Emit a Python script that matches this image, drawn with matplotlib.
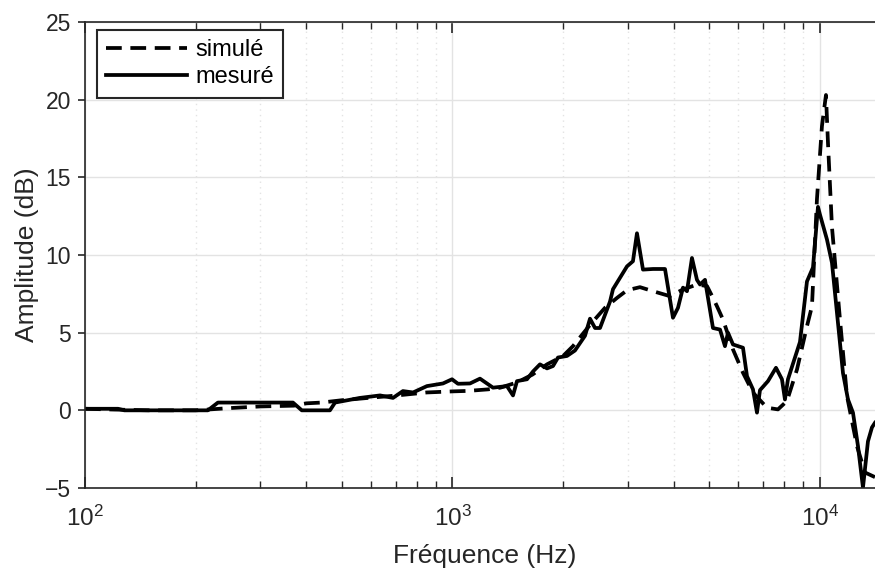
import math
import matplotlib
matplotlib.use('Agg')
import matplotlib.pyplot as plt
from matplotlib.ticker import LogLocator, FuncFormatter, MultipleLocator

plt.rcParams['font.family'] = ['Liberation Sans', 'DejaVu Sans']
plt.rcParams['mathtext.fontset'] = 'custom'
plt.rcParams['mathtext.rm'] = 'Liberation Sans'
plt.rcParams['mathtext.it'] = 'Liberation Sans'

# mesure (Hz, dB)
f_mes = [100, 123, 128, 216, 230, 368, 389, 464, 479, 560, 635, 689, 733, 781,
         852, 942, 997, 1035, 1116, 1188, 1289, 1407, 1461, 1498, 1595, 1656,
         1730, 1808, 1877, 1937, 2049, 2154, 2294, 2367, 2443, 2520, 2683, 2734,
         2985, 3098, 3177, 3299, 3513, 3787, 3981, 4108, 4239, 4346, 4484, 4627,
         4716, 4866, 5115, 5345, 5514, 5619, 5798, 6173, 6330, 6572, 6739, 6867,
         7220, 7591, 7880, 8030, 8183, 8822, 9218, 9572, 9876, 10000, 10447,
         10781, 11551, 11919, 12297, 12689, 13092, 13507, 13851, 14114]
a_mes = [0.1, 0.1, 0.0, 0.0, 0.5, 0.5, 0.0, 0.0, 0.5, 0.8, 0.96, 0.8, 1.24, 1.15,
         1.56, 1.73, 2.0, 1.71, 1.73, 2.04, 1.46, 1.56, 0.96, 1.88, 2.0, 2.5,
         2.96, 2.7, 2.85, 3.4, 3.5, 3.85, 4.8, 5.9, 5.3, 5.3, 7.0, 7.8,
         9.27, 9.6, 11.4, 9.06, 9.1, 9.1, 5.96, 6.6, 7.9, 7.67, 9.81, 8.4,
         8.1, 8.4, 5.3, 5.2, 4.13, 5.0, 4.24, 4.03, 2.2, 1.35, -0.15, 1.3,
         1.88, 2.74, 2.0, 0.7, 2.0, 4.4, 8.3, 9.2, 13.1, 12.6, 11.0,
         9.5, 2.4, 0.7, -0.15, -2.3, -4.97, -2.0, -1.1, -0.8]

# simulation (Hz, dB)
f_sim = [100, 120, 150, 200, 250, 300, 370, 400, 440, 500, 590, 700, 850, 1000,
         1100, 1250, 1350, 1500, 1650, 1808, 1998, 2127, 2367, 2600, 2804, 2985,
         3237, 3513, 3906, 4239, 4627, 4927, 5115, 5245, 5445, 5798, 6173, 6572,
         7175, 7686, 8131, 8659, 9218, 9511, 9813, 10125, 10383, 10515, 10781,
         11335, 11844, 12609, 13256, 14114]
a_sim = [0.1, 0.05, 0.0, 0.0, 0.15, 0.25, 0.3, 0.45, 0.5, 0.65, 0.8, 0.95, 1.15, 1.22,
         1.25, 1.35, 1.46, 1.8, 2.3, 2.96, 3.49, 4.13, 5.5, 6.6, 7.24, 7.73,
         7.93, 7.67, 7.35, 7.78, 8.1, 8.0, 7.24, 6.7, 5.85, 3.92, 2.42, 1.14,
         0.17, 0.06, 0.6, 2.63, 5.42, 6.7, 13.6, 18.3, 20.3, 17.2, 11.8,
         5.85, 0.92, -2.3, -4.0, -4.3]

txt = '#262626'
fig = plt.figure(figsize=(8.75, 5.69), dpi=100)
ax = fig.add_axes([85/875, 1-488/569, 800/875, 466/569])

ax.semilogx(f_sim, a_sim, color='black', lw=2.7, dashes=(4.2, 2.3), label='simulé')
ax.semilogx(f_mes, a_mes, color='black', lw=2.7, label='mesuré')

ax.set_xlim(100, 15030)
ax.set_ylim(-5, 25)
ax.yaxis.set_major_locator(MultipleLocator(5))
ax.xaxis.set_major_locator(LogLocator(base=10))
ax.xaxis.set_minor_locator(LogLocator(base=10, subs=range(2, 10)))
ax.xaxis.set_major_formatter(FuncFormatter(lambda v, p: r'$10^{%d}$' % round(math.log10(v))))

ax.grid(which='major', color='#e3e3e3', lw=1)
ax.grid(which='minor', axis='x', color='#e3e3e3', lw=1, ls=(0, (1, 3)))
ax.set_axisbelow(True)

for s in ['top', 'bottom', 'left']:
    ax.spines[s].set_color(txt)
    ax.spines[s].set_linewidth(1.2)
ax.spines['right'].set_visible(False)

ax.tick_params(axis='x', which='both', direction='in', top=True, colors=txt, labelsize=17.5, pad=13)
ax.tick_params(axis='x', which='major', length=8, width=1.2)
ax.tick_params(axis='x', which='minor', length=5, width=1)
ax.tick_params(axis='y', direction='out', length=5, width=1.2, colors=txt, labelsize=16.5, pad=5)

ax.set_xlabel('Fréquence (Hz)', fontsize=19, color=txt)
ax.set_ylabel('Amplitude (dB)', fontsize=19, color=txt)
ax.xaxis.set_label_coords(0.5, -0.12)
ax.yaxis.set_label_coords(-0.058, 0.5)

leg = ax.legend(loc='upper left', bbox_to_anchor=(0.015, 0.983), borderaxespad=0,
                fancybox=False, framealpha=1, edgecolor=txt, fontsize=17,
                handlelength=3.4, handletextpad=0.35, borderpad=0.4, labelspacing=0.2)
leg.get_frame().set_linewidth(1.5)

fig.savefig('out.png', dpi=100)
